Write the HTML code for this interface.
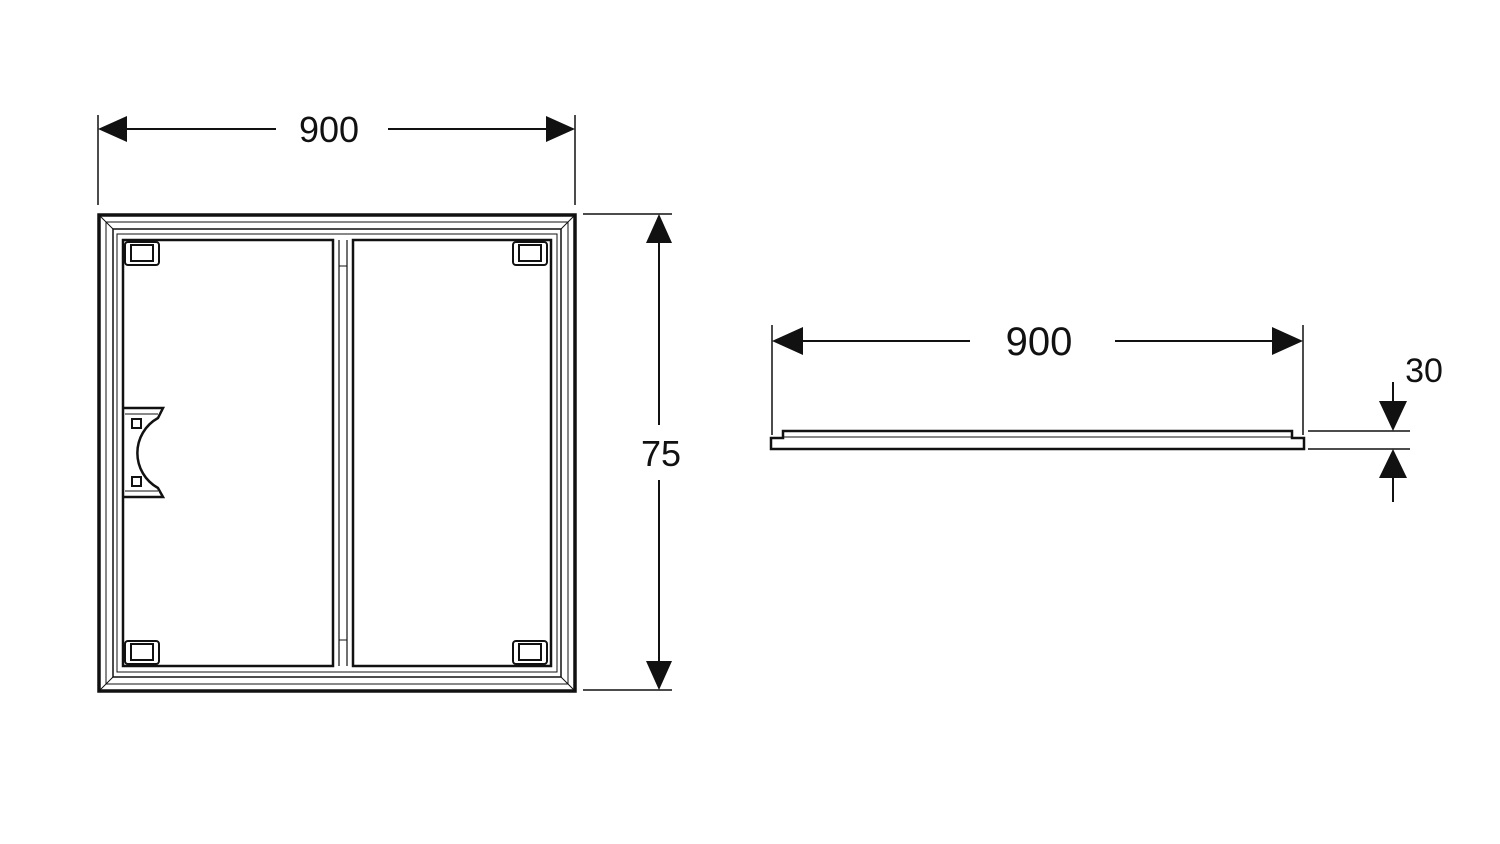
<!DOCTYPE html>
<html><head><style>body{margin:0;background:#fff}svg{display:block}text{font-family:"Liberation Sans",sans-serif;fill:#111}</style></head><body>
<svg width="1500" height="844" viewBox="0 0 1500 844" xmlns="http://www.w3.org/2000/svg">
<g stroke="#111" fill="none">
<!-- top dim -->
<line x1="98" y1="115" x2="98" y2="205" stroke-width="1.5"/>
<line x1="575" y1="115" x2="575" y2="205" stroke-width="1.5"/>
<line x1="120" y1="129" x2="276" y2="129" stroke-width="2"/>
<line x1="388" y1="129" x2="555" y2="129" stroke-width="2"/>
<!-- frame -->
<rect x="99" y="215" width="476" height="476" stroke-width="3.5"/>
<rect x="106" y="222" width="462" height="462" stroke-width="1"/>
<rect x="113" y="229" width="448" height="448" stroke-width="1.5"/>
<line x1="99" y1="215" x2="113" y2="229" stroke-width="1"/>
<line x1="575" y1="215" x2="561" y2="229" stroke-width="1"/>
<line x1="99" y1="691" x2="113" y2="677" stroke-width="1"/>
<line x1="575" y1="691" x2="561" y2="677" stroke-width="1"/>
<rect x="117" y="234" width="440" height="438" stroke-width="1"/>
<rect x="123" y="240" width="210" height="426" stroke-width="2.5"/>
<rect x="353" y="240" width="198" height="426" stroke-width="2.5"/>
<line x1="339" y1="240" x2="339" y2="666" stroke-width="1.2"/>
<line x1="347" y1="240" x2="347" y2="666" stroke-width="1.2"/>
<line x1="339" y1="266" x2="347" y2="266" stroke-width="1"/>
<line x1="339" y1="640" x2="347" y2="640" stroke-width="1"/>
<!-- clips -->
<g stroke-width="2">
<rect x="125" y="242" width="34" height="23" rx="3"/><rect x="131" y="245" width="22" height="16"/>
<rect x="513" y="242" width="34" height="23" rx="3"/><rect x="519" y="245" width="22" height="16"/>
<rect x="125" y="641" width="34" height="23" rx="3"/><rect x="131" y="644" width="22" height="16"/>
<rect x="513" y="641" width="34" height="23" rx="3"/><rect x="519" y="644" width="22" height="16"/>
</g>
<!-- bracket -->
<path d="M123 408 H163 L158 418 A40 40 0 0 0 158 488 L163 497 H123" stroke-width="2.5"/>
<line x1="125" y1="414" x2="158" y2="414" stroke-width="1"/>
<line x1="125" y1="491" x2="158" y2="491" stroke-width="1"/>
<rect x="132" y="419" width="9" height="9" stroke-width="2"/>
<rect x="132" y="477" width="9" height="9" stroke-width="2"/>
<!-- right dim -->
<line x1="583" y1="214" x2="672" y2="214" stroke-width="1.5"/>
<line x1="583" y1="690" x2="672" y2="690" stroke-width="1.5"/>
<line x1="659" y1="240" x2="659" y2="425" stroke-width="2"/>
<line x1="659" y1="480" x2="659" y2="664" stroke-width="2"/>
<!-- side view dim -->
<line x1="772" y1="325" x2="772" y2="435" stroke-width="1.5"/>
<line x1="1303" y1="325" x2="1303" y2="435" stroke-width="1.5"/>
<line x1="795" y1="341" x2="970" y2="341" stroke-width="2"/>
<line x1="1115" y1="341" x2="1282" y2="341" stroke-width="2"/>
<path d="M771 438 H783 V431 H1292 V438 H1304 V449 H771 Z" stroke-width="2.5"/>
<line x1="783" y1="437" x2="1292" y2="437" stroke-width="1"/>
<!-- 30 dim -->
<line x1="1308" y1="431" x2="1410" y2="431" stroke-width="1.5"/>
<line x1="1308" y1="449" x2="1410" y2="449" stroke-width="1.5"/>
<line x1="1393" y1="382" x2="1393" y2="405" stroke-width="2"/>
<line x1="1393" y1="475" x2="1393" y2="502" stroke-width="2"/>
</g>
<g fill="#111">
<polygon points="98,129 127,116 127,142"/>
<polygon points="575,129 546,116 546,142"/>
<polygon points="659,214 646,243 672,243"/>
<polygon points="659,690 646,661 672,661"/>
<polygon points="772,341 803,327 803,355"/>
<polygon points="1303,341 1272,327 1272,355"/>
<polygon points="1393,431 1379,401 1407,401"/>
<polygon points="1393,449 1379,478 1407,478"/>
</g>
<text x="329" y="142" font-size="36" text-anchor="middle">900</text>
<text x="661" y="466" font-size="36" text-anchor="middle">75</text>
<text x="1039" y="355" font-size="40" text-anchor="middle">900</text>
<text x="1424" y="382" font-size="34" text-anchor="middle">30</text>
</svg>
</body></html>
